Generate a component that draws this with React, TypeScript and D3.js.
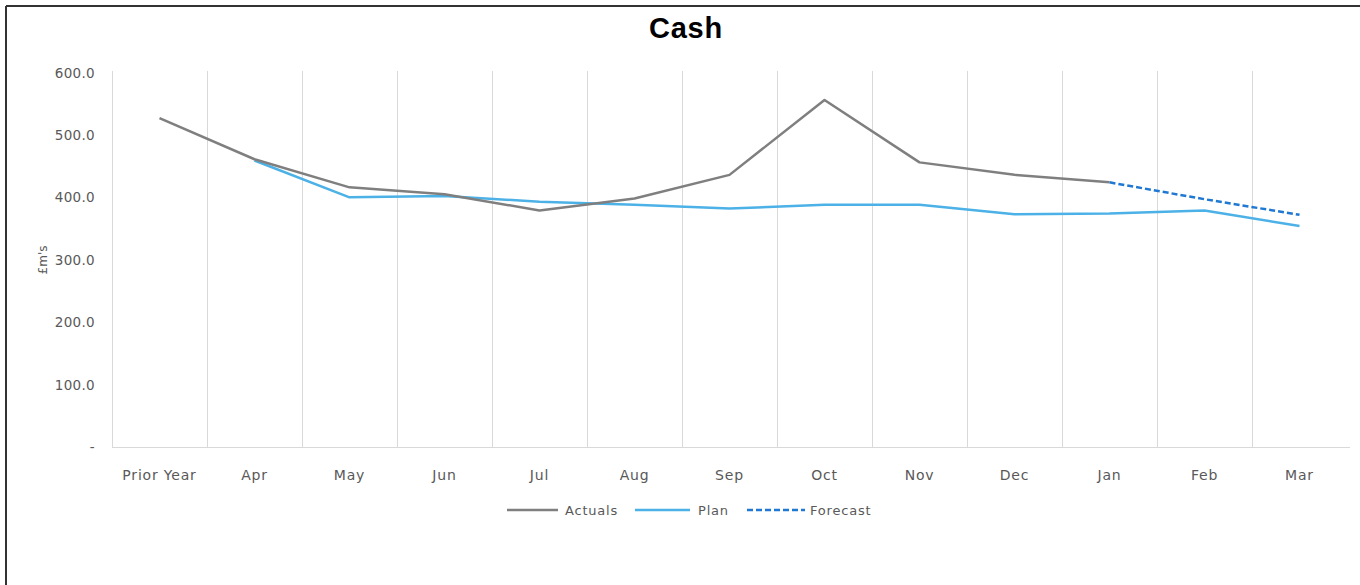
import React from "react";
import * as d3 from "d3";

const categories = ["Prior Year", "Apr", "May", "Jun", "Jul", "Aug", "Sep", "Oct", "Nov", "Dec", "Jan", "Feb", "Mar"];
const actuals: (number | null)[] = [527, 461, 416, 405, 379, 398, 436, 556, 456, 436, 424, null, null];
const plan: (number | null)[] = [null, 459, 400, 402, 393, 388, 382, 388, 388, 373, 374, 379, 354];
const forecast: (number | null)[] = [null, null, null, null, null, null, null, null, null, null, 424, 397, 372];
const yTicks = [0, 100, 200, 300, 400, 500, 600];
const legendItems = ["Actuals", "Plan", "Forecast"];

const W = 1360, H = 585;
const left = 112, right = 1347, top = 72.5, bottom = 447;
const FONT = "'DejaVu Sans', 'Open Sans', sans-serif";

export default function App() {
  const x = d3.scaleBand<string>().domain(categories).range([left, right]).padding(0);
  const y = d3.scaleLinear().domain([0, 600]).range([bottom, top]);
  const cx = (i: number) => (x(categories[i]) as number) + x.bandwidth() / 2;
  const line = d3
    .line<number | null>()
    .defined((d) => d !== null)
    .x((_, i) => cx(i))
    .y((d) => y(d as number));

  const colors = { Actuals: "#7f7f7f", Plan: "#4cb1e6", Forecast: "#1f78d1" } as Record<string, string>;
  const legendLine = [[507, 558], [635, 690], [747, 805]];
  const legendText = [565, 698, 810];

  return (
    <svg width={W} height={H} style={{ position: "absolute", left: 0, top: 0, background: "#fff" }}>
      <rect x={0} y={0} width={W} height={H} fill="#fff" />
      <line x1={6} y1={6} x2={W} y2={6} stroke="#333" strokeWidth={2} />
      <line x1={6} y1={6} x2={6} y2={H} stroke="#333" strokeWidth={2} />
      <text x={686} y={38} textAnchor="middle" fontFamily="'Liberation Sans', Arial, sans-serif" fontWeight="bold" fontSize={29} letterSpacing={0.8} fill="#000">
        Cash
      </text>
      {categories.map((c) => (
        <line key={"g" + c} x1={(x(c) as number) + 0.5} x2={(x(c) as number) + 0.5} y1={71} y2={bottom} stroke="#d9d9d9" strokeWidth={1} />
      ))}
      <line x1={left} x2={right + 3} y1={bottom + 0.5} y2={bottom + 0.5} stroke="#d9d9d9" strokeWidth={1} />
      {yTicks.map((t) => (
        <text key={"y" + t} x={95} y={y(t) + 5} textAnchor="end" fontFamily={FONT} fontSize={13.5} letterSpacing={0.3} fill="#595959">
          {t === 0 ? "-" : d3.format(".1f")(t)}
        </text>
      ))}
      <text transform={`translate(47,260) rotate(-90)`} textAnchor="middle" fontFamily={FONT} fontSize={12} fill="#595959">
        £m's
      </text>
      {categories.map((c, i) => (
        <text key={"c" + c} x={cx(i)} y={480} textAnchor="middle" fontFamily={FONT} fontSize={14} letterSpacing={0.8} fill="#595959">
          {c}
        </text>
      ))}
      <path d={line(plan) || ""} fill="none" stroke={colors.Plan} strokeWidth={2.5} strokeLinejoin="round" />
      <path d={line(actuals) || ""} fill="none" stroke={colors.Actuals} strokeWidth={2.5} strokeLinejoin="round" />
      <path d={line(forecast) || ""} fill="none" stroke={colors.Forecast} strokeWidth={2.5} strokeDasharray="6,3" />
      {legendItems.map((k, i) => (
        <g key={"l" + k}>
          <line x1={legendLine[i][0]} x2={legendLine[i][1]} y1={510} y2={510} stroke={colors[k]} strokeWidth={2.5} strokeDasharray={k === "Forecast" ? "6,3" : undefined} />
          <text x={legendText[i]} y={515} fontFamily={FONT} fontSize={13} letterSpacing={0.8} fill="#595959">
            {k}
          </text>
        </g>
      ))}
    </svg>
  );
}
